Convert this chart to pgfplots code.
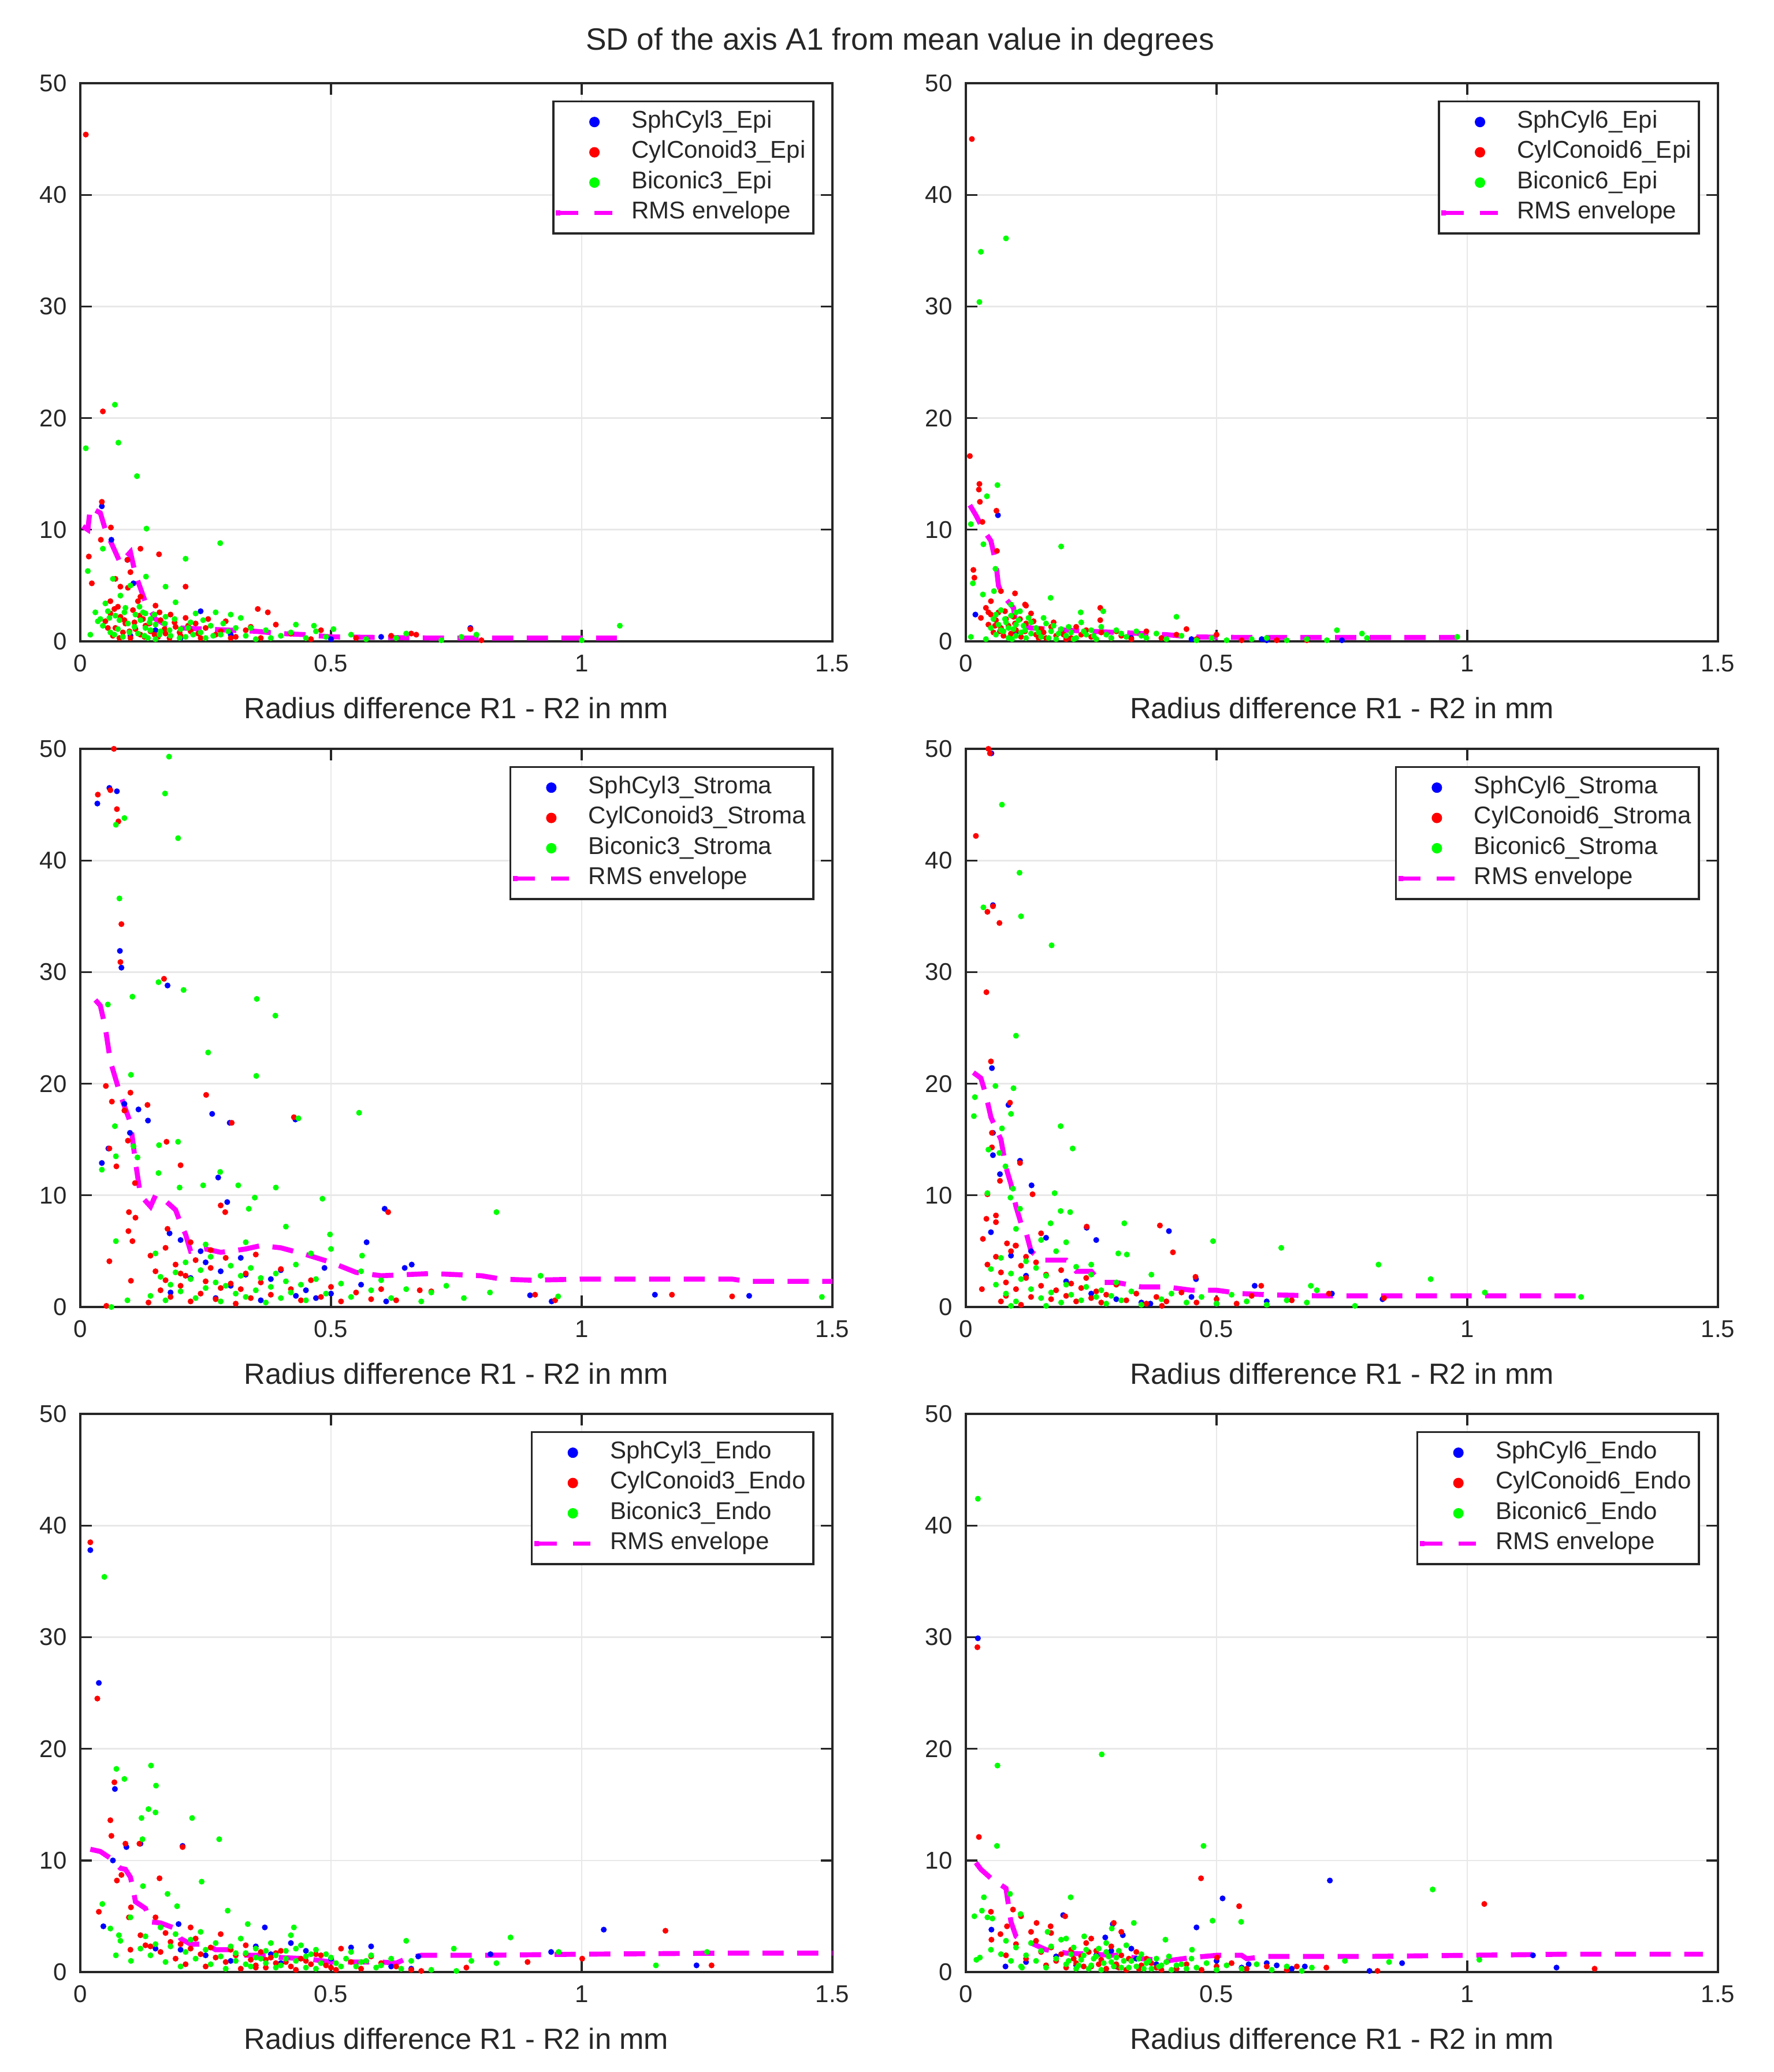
\documentclass[border=0pt]{standalone}
\usepackage{fontspec}
\setmainfont{Liberation Sans}
\usepackage{pgfplots}
\pgfplotsset{compat=1.18}
\definecolor{axgray}{gray}{0.15}
\definecolor{mag}{rgb}{1,0,1}
\definecolor{gr}{rgb}{0,1,0}
\definecolor{bl}{rgb}{0,0,1}
\definecolor{rd}{rgb}{1,0,0}
\pgfplotsset{
 panel/.style={
  scale only axis, width=195.3pt, height=144.9pt,
  xmin=0,xmax=1.5,ymin=0,ymax=50,
  xtick={0,0.5,1,1.5}, ytick={0,10,20,30,40,50},
  grid=major, major grid style={gray!18, line width=0.4pt},
  axis line style={axgray, line width=0.5pt},
  tick style={axgray, line width=0.5pt},
  major tick length=3pt, tick align=inside,
  tick label style={font=\fontsize{6.3}{7}\selectfont, text=axgray},
  /pgf/number format/assume math mode=true,
  xlabel={Radius difference R1 - R2 in mm},
  xlabel style={font=\fontsize{7.6}{9}\selectfont, text=axgray, at={(axis description cs:0.5,0)}, anchor=center, yshift=-17.3pt},
  legend style={at={(0.976,0.969)}, anchor=north east, draw=axgray, line width=0.5pt, font=\fontsize{6.3}{7.5}\selectfont, text=black!85, row sep=-2.2pt, column sep=2.5pt, inner xsep=0pt, inner ysep=0.3pt},
  legend cell align=left,
 },
 dots/.style={only marks, mark=*, mark size=0.55pt, color=#1, mark options={draw=none, fill=#1},
   legend image code/.code={\draw[##1, mark size=1.1pt] plot coordinates {(10pt,0pt)};}},
 env/.style={mag, line width=1.3pt, dash pattern=on 5.5pt off 3.5pt, no marks,
   legend image code/.code={\path (0pt,0pt) -- (1.2pt,0pt); \draw[##1, line width=1.15pt, dash pattern=on 4.6pt off 4.2pt] (1.2pt,0pt) -- (14.6pt,0pt);}},
}
\begin{document}
\begin{tikzpicture}
\path[use as bounding box] (0,0) rectangle (460.5pt,-537.9pt);
\node[font=\fontsize{8}{10}\selectfont, text=axgray] at (233.7pt,-10.95pt) {SD of the axis A1 from mean value in degrees};

% ---------- Panel 1: Epi 3 ----------
\begin{axis}[panel, at={(20.85pt,-21.6pt)}, anchor=north west]
\addplot[dots=bl] coordinates {(0.043,12.1)(0.062,9.1)(0.094,7.3)(0.106,5.2)(0.24,2.7)(0.778,1.2)(0.1,0.5)(0.15,1.0)(0.2,0.3)(0.3,0.6)(0.5,0.2)(0.6,0.4)};
\addlegendentry{SphCyl3\_Epi}
\addplot[dots=rd] coordinates {(0.011,45.4)(0.045,20.6)(0.017,7.6)(0.023,5.2)(0.043,12.5)(0.041,9.1)(0.061,10.2)(0.094,7.3)(0.12,8.3)(0.157,7.8)(0.21,4.9)(0.354,2.9)(0.374,2.6)(0.778,1.1)(0.67,0.6)
(0.05,1.8)(0.06,2.5)(0.065,0.5)(0.07,1.2)(0.075,3.1)(0.08,2.2)(0.085,0.8)(0.09,1.6)(0.095,4.8)(0.1,0.3)(0.105,2.8)(0.11,1.1)(0.115,3.6)(0.12,0.6)(0.125,2.0)(0.13,1.4)(0.14,0.9)(0.15,3.2)(0.155,0.4)(0.16,1.9)(0.17,0.7)(0.18,2.4)(0.19,1.3)(0.2,0.5)(0.21,2.1)(0.22,0.9)(0.23,1.6)(0.24,0.3)(0.25,1.2)(0.27,0.6)(0.29,1.8)(0.31,0.4)(0.33,1.0)(0.36,0.3)(0.39,1.5)(0.42,0.7)(0.46,0.2)(0.48,1.0)(0.55,0.3)(0.62,0.5)(0.66,0.7)(0.8,0.1)(0.07,5.6)(0.08,4.9)(0.1,6.2)(0.12,4.0)(0.06,3.6)
(0.055,1.2)(0.068,2.9)(0.078,0.3)(0.088,1.9)(0.098,0.9)(0.108,1.7)(0.118,2.3)(0.128,0.4)(0.138,1.6)(0.148,0.6)(0.158,2.6)(0.168,1.1)(0.178,0.3)(0.188,1.7)(0.198,0.8)(0.215,1.4)(0.235,0.7)(0.255,2.0)(0.28,0.9)(0.3,0.3)(0.34,1.3)};
\addlegendentry{CylConoid3\_Epi}
\addplot[dots=gr] coordinates {(0.069,21.2)(0.011,17.3)(0.076,17.8)(0.113,14.8)(0.132,10.1)(0.279,8.8)(0.21,7.4)(0.015,6.3)(0.045,8.3)(0.131,5.8)(0.17,4.9)(1.076,1.4)(0.02,0.6)(0.505,1.1)(0.466,1.4)
(0.03,2.6)(0.035,1.8)(0.04,2.0)(0.05,3.4)(0.055,2.7)(0.06,0.8)(0.065,5.6)(0.07,2.3)(0.075,1.1)(0.08,4.1)(0.085,0.4)(0.09,3.0)(0.095,1.6)(0.1,5.0)(0.11,2.4)(0.115,0.7)(0.12,1.9)(0.125,2.6)(0.13,1.2)(0.135,0.3)(0.14,2.0)(0.15,1.5)(0.16,0.9)(0.17,2.2)(0.18,0.5)(0.19,3.5)(0.2,1.1)(0.21,0.4)(0.22,1.7)(0.23,2.5)(0.24,0.8)(0.25,0.3)(0.26,1.4)(0.27,2.6)(0.28,0.6)(0.3,2.4)(0.31,1.2)(0.32,2.1)(0.33,0.5)(0.35,0.2)(0.37,1.0)(0.4,0.5)(0.43,1.5)(0.45,0.3)(0.47,0.9)(0.49,0.4)(0.54,0.6)(0.57,0.2)(0.63,0.3)(0.65,0.7)(0.72,0.1)(0.76,0.4)(0.79,0.6)(1.0,0.1)(0.13,2.5)(0.14,1.0)(0.15,0.2)
(0.045,1.4)(0.058,2.1)(0.068,0.6)(0.078,1.9)(0.088,2.6)(0.098,0.8)(0.108,1.3)(0.118,3.1)(0.128,0.5)(0.138,1.7)(0.148,2.4)(0.158,0.6)(0.168,1.6)(0.178,1.0)(0.188,2.0)(0.198,0.3)(0.215,1.2)(0.225,0.6)(0.245,1.9)(0.265,0.5)(0.285,1.6)(0.295,0.9)(0.34,1.2)(0.38,0.3)(0.42,0.8)};
\addlegendentry{Biconic3\_Epi}
\addplot[env] coordinates {(0.005,10.3)(0.015,10.0)(0.02,12.0)(0.04,11.5)(0.05,10.0)(0.07,8.0)(0.08,7.0)(0.1,8.0)(0.11,6.0)(0.13,3.5)(0.15,2.0)(0.17,1.5)(0.2,1.2)(0.25,1.1)(0.3,1.0)(0.35,0.9)(0.4,0.7)(0.45,0.6)(0.5,0.4)(0.6,0.35)(0.7,0.3)(0.8,0.3)(1.07,0.3)};
\addlegendentry{RMS envelope}
\end{axis}

% ---------- Panel 2: Epi 6 ----------
\begin{axis}[panel, at={(250.8pt,-21.6pt)}, anchor=north west]
\addplot[dots=bl] coordinates {(0.019,2.4)(0.064,11.3)(0.59,0.2)(0.1,0.8)(0.2,0.4)(0.33,0.3)(0.45,0.2)(0.6,0.1)(0.75,0.1)};
\addlegendentry{SphCyl6\_Epi}
\addplot[dots=rd] coordinates {(0.012,45.0)(0.008,16.6)(0.027,14.1)(0.026,13.6)(0.028,12.5)(0.033,10.7)(0.061,11.7)(0.062,8.1)(0.015,6.4)(0.017,5.7)(0.098,4.3)(0.118,3.3)(0.268,3.0)(0.268,1.9)(0.44,1.1)(0.5,0.6)
(0.03,2.1)(0.04,3.0)(0.045,1.5)(0.05,2.4)(0.055,0.8)(0.06,1.9)(0.065,2.6)(0.07,1.2)(0.075,0.5)(0.08,2.0)(0.085,1.4)(0.09,0.7)(0.095,2.2)(0.1,1.0)(0.11,0.4)(0.12,1.6)(0.13,2.5)(0.14,0.6)(0.15,1.1)(0.16,0.3)(0.17,1.3)(0.18,0.5)(0.19,0.9)(0.2,0.2)(0.22,1.3)(0.23,0.6)(0.25,0.4)(0.27,0.8)(0.29,0.3)(0.31,0.5)(0.33,0.2)(0.36,0.9)(0.39,0.3)(0.42,0.6)(0.46,0.2)(0.55,0.1)(0.62,0.1)(0.68,0.1)(0.07,4.5)(0.12,3.2)(0.05,3.6)
(0.045,2.6)(0.058,1.4)(0.068,0.9)(0.078,2.7)(0.088,0.4)(0.098,1.6)(0.108,2.0)(0.118,0.9)(0.135,1.8)(0.145,0.3)(0.155,0.8)(0.175,1.7)(0.195,0.6)(0.21,0.3)(0.24,1.0)(0.26,0.2)(0.3,0.9)};
\addlegendentry{CylConoid6\_Epi}
\addplot[dots=gr] coordinates {(0.03,34.9)(0.08,36.1)(0.027,30.4)(0.063,14.0)(0.042,13.0)(0.01,10.5)(0.035,8.7)(0.19,8.5)(0.059,6.5)(0.014,5.2)(0.034,4.2)(0.056,4.5)(0.169,3.9)(0.229,2.6)(0.274,2.7)(0.42,2.2)(0.74,1.0)(0.79,0.7)(0.98,0.4)(0.01,0.4)
(0.04,0.2)(0.05,1.2)(0.055,2.0)(0.06,0.6)(0.065,1.5)(0.07,2.8)(0.075,0.9)(0.08,1.7)(0.085,0.3)(0.09,2.3)(0.095,1.1)(0.1,0.5)(0.105,1.9)(0.11,0.8)(0.115,1.4)(0.12,0.3)(0.125,2.1)(0.13,0.7)(0.14,1.2)(0.15,0.4)(0.16,1.6)(0.17,0.9)(0.18,0.2)(0.19,1.1)(0.2,0.5)(0.21,0.8)(0.22,0.3)(0.23,1.7)(0.24,0.6)(0.25,1.0)(0.26,0.2)(0.28,0.6)(0.3,1.0)(0.32,0.4)(0.34,0.9)(0.36,0.3)(0.38,0.7)(0.4,0.2)(0.43,0.5)(0.46,0.1)(0.49,0.3)(0.52,0.1)(0.57,0.2)(0.6,0.3)(0.64,0.1)(0.68,0.2)(0.72,0.1)(0.8,0.3)(0.09,3.3)(0.1,2.6)
(0.06,2.4)(0.07,1.0)(0.078,2.0)(0.085,1.2)(0.092,0.2)(0.1,1.5)(0.108,2.7)(0.118,1.0)(0.13,1.7)(0.145,0.8)(0.155,2.1)(0.165,0.3)(0.175,1.4)(0.185,0.7)(0.205,1.3)(0.215,0.2)(0.235,0.9)(0.255,0.5)(0.27,1.3)(0.29,0.3)(0.31,0.7)(0.35,0.5)};
\addlegendentry{Biconic6\_Epi}
\addplot[env] coordinates {(0.008,12.2)(0.02,11.3)(0.035,10.0)(0.05,9.0)(0.06,7.0)(0.065,5.0)(0.07,4.5)(0.08,3.8)(0.095,3.0)(0.1,1.5)(0.13,1.2)(0.2,1.0)(0.3,0.8)(0.4,0.6)(0.45,0.4)(0.55,0.35)(0.7,0.35)(0.98,0.35)};
\addlegendentry{RMS envelope}
\end{axis}

% ---------- Panel 3: Stroma 3 ----------
\begin{axis}[panel, at={(20.85pt,-194.4pt)}, anchor=north west]
\addplot[dots=bl] coordinates {(0.034,45.1)(0.058,46.5)(0.073,46.2)(0.079,31.9)(0.082,30.4)(0.174,28.8)(0.263,17.3)(0.298,16.5)(0.429,16.8)(0.043,12.9)(0.056,14.2)(0.088,18.2)(0.116,17.7)(0.135,16.7)(0.099,15.6)(0.275,11.6)(0.293,9.4)(0.607,8.8)(0.571,5.8)(0.647,3.5)(0.661,3.8)(1.146,1.1)(1.334,1.0)(0.897,1.05)(0.94,0.5)(0.487,3.5)(0.2,6.0)(0.178,6.6)
(0.18,1.3)(0.22,2.6)(0.25,4.0)(0.28,3.2)(0.3,1.9)(0.33,2.9)(0.36,0.6)(0.4,3.3)(0.43,1.0)(0.47,0.8)(0.5,1.2)(0.56,2.0)(0.61,0.5)(0.24,5.0)(0.27,0.8)(0.32,4.4)(0.38,2.5)(0.45,1.5)};
\addlegendentry{SphCyl3\_Stroma}
\addplot[dots=rd] coordinates {(0.035,45.9)(0.06,46.3)(0.067,50.0)(0.073,44.6)(0.076,43.5)(0.082,34.3)(0.08,30.9)(0.167,29.4)(0.051,19.8)(0.063,18.4)(0.088,17.6)(0.1,19.2)(0.251,19.0)(0.302,16.5)(0.426,17.0)(0.134,18.1)(0.058,14.2)(0.095,14.9)(0.172,14.8)(0.2,12.7)(0.072,12.6)(0.109,11.1)(0.28,9.1)(0.289,8.5)(0.614,8.5)(0.11,8.0)(0.097,8.5)(0.096,6.8)(0.174,7.0)(0.104,5.9)(0.058,4.1)(0.101,2.35)(0.136,0.4)(0.677,1.5)(1.18,1.1)(1.3,0.95)(0.907,1.1)(0.947,0.6)(0.052,0.1)
(0.14,4.6)(0.15,3.2)(0.16,1.5)(0.17,2.4)(0.18,0.9)(0.19,3.8)(0.2,1.9)(0.21,2.8)(0.22,0.5)(0.23,4.2)(0.24,1.2)(0.25,2.3)(0.26,3.5)(0.27,0.7)(0.28,1.7)(0.29,4.4)(0.3,2.1)(0.31,0.3)(0.32,1.6)(0.33,3.0)(0.34,0.8)(0.36,2.2)(0.38,1.1)(0.4,3.4)(0.42,1.6)(0.44,0.6)(0.46,2.4)(0.48,0.9)(0.5,1.8)(0.52,0.5)(0.55,1.3)(0.58,0.7)(0.6,1.6)(0.63,0.6)(0.7,1.4)(0.22,5.8)(0.26,5.1)(0.35,4.7)(0.2,3.0)(0.17,5.3)};
\addlegendentry{CylConoid3\_Stroma}
\addplot[dots=gr] coordinates {(0.177,49.3)(0.169,46.0)(0.195,42.0)(0.088,43.8)(0.071,43.2)(0.078,36.6)(0.055,27.1)(0.104,27.8)(0.206,28.4)(0.156,29.1)(0.352,27.6)(0.389,26.1)(0.255,22.8)(0.351,20.7)(0.101,20.8)(0.556,17.4)(0.435,16.9)(0.069,16.2)(0.195,14.8)(0.157,14.5)(0.106,14.4)(0.114,13.4)(0.071,13.5)(0.043,12.3)(0.156,12.0)(0.279,12.1)(0.198,10.7)(0.245,10.9)(0.315,10.9)(0.39,10.7)(0.348,9.8)(0.483,9.7)(0.83,8.5)(0.336,8.8)(0.41,7.2)(0.498,6.5)(0.071,5.9)(0.562,4.6)(0.094,0.6)(0.062,0.0)(0.918,2.8)(1.479,0.9)(0.765,0.8)(0.953,0.95)(0.817,1.3)
(0.14,1.0)(0.15,4.8)(0.16,2.7)(0.17,0.6)(0.18,2.0)(0.19,3.1)(0.2,1.4)(0.21,4.0)(0.22,2.5)(0.23,0.8)(0.24,3.3)(0.25,1.7)(0.26,4.5)(0.27,2.2)(0.28,0.5)(0.29,1.9)(0.3,3.7)(0.31,1.2)(0.32,2.8)(0.33,0.9)(0.34,3.5)(0.35,1.5)(0.36,2.6)(0.37,0.4)(0.38,1.8)(0.39,3.0)(0.4,0.8)(0.41,2.3)(0.42,1.3)(0.43,3.8)(0.44,2.0)(0.45,0.6)(0.47,2.5)(0.49,1.2)(0.5,5.2)(0.52,2.1)(0.54,0.9)(0.56,3.2)(0.58,1.5)(0.6,2.4)(0.62,0.8)(0.65,1.6)(0.68,0.5)(0.7,1.3)(0.73,1.9)(0.25,5.6)(0.33,5.8)(0.46,4.8)};
\addlegendentry{Biconic3\_Stroma}
\addplot[env] coordinates {(0.03,27.5)(0.04,27.0)(0.05,25.0)(0.06,22.0)(0.08,19.0)(0.1,16.5)(0.11,13.0)(0.12,10.0)(0.14,9.0)(0.15,10.0)(0.17,9.5)(0.19,8.7)(0.2,7.5)(0.21,6.5)(0.22,5.0)(0.25,5.2)(0.28,4.9)(0.3,5.0)(0.33,5.2)(0.36,5.5)(0.4,5.3)(0.45,4.7)(0.5,4.0)(0.55,3.1)(0.6,2.8)(0.7,3.0)(0.8,2.8)(0.84,2.5)(0.9,2.4)(1.0,2.5)(1.3,2.5)(1.33,2.3)(1.5,2.3)};
\addlegendentry{RMS envelope}
\end{axis}

% ---------- Panel 4: Stroma 6 ----------
\begin{axis}[panel, at={(250.8pt,-194.4pt)}, anchor=north west]
\addplot[dots=bl] coordinates {(0.051,49.6)(0.054,36.0)(0.052,21.4)(0.085,18.1)(0.054,15.6)(0.054,13.6)(0.068,11.9)(0.131,10.9)(0.108,13.1)(0.241,7.1)(0.405,6.8)(0.05,6.7)(0.459,2.5)(0.576,1.9)(0.73,1.2)(0.831,0.7)(0.368,0.3)
(0.09,4.6)(0.13,5.0)(0.16,6.2)(0.2,2.3)(0.25,1.2)(0.3,0.7)(0.35,0.4)(0.45,0.9)(0.5,0.3)(0.6,0.5)(0.26,6.0)(0.12,2.8)};
\addlegendentry{SphCyl6\_Stroma}
\addplot[dots=rd] coordinates {(0.045,50.0)(0.048,49.6)(0.02,42.2)(0.043,35.4)(0.054,35.9)(0.067,34.4)(0.041,28.2)(0.05,22.0)(0.088,18.3)(0.052,15.6)(0.052,14.3)(0.108,12.9)(0.068,11.3)(0.043,10.1)(0.133,10.1)(0.06,8.2)(0.06,7.6)(0.041,7.9)(0.241,7.2)(0.387,7.3)(0.413,4.9)(0.034,6.1)(0.082,5.7)(0.099,5.5)(0.043,3.8)(0.458,2.7)(0.032,1.6)(0.391,0.1)(0.589,1.9)(0.65,0.6)(0.724,1.2)(0.834,0.8)
(0.06,4.5)(0.07,3.1)(0.08,2.2)(0.09,5.0)(0.1,1.6)(0.11,3.7)(0.12,2.6)(0.13,0.9)(0.14,4.0)(0.15,1.9)(0.16,2.9)(0.17,0.7)(0.18,1.5)(0.19,3.3)(0.2,1.0)(0.21,2.1)(0.22,0.5)(0.23,1.7)(0.24,2.6)(0.25,0.8)(0.26,1.4)(0.27,0.4)(0.28,1.1)(0.3,2.0)(0.32,0.6)(0.34,1.2)(0.36,0.3)(0.38,0.9)(0.4,0.5)(0.43,1.3)(0.46,0.4)(0.5,0.7)(0.54,0.3)(0.57,1.0)(0.1,5.5)(0.12,4.5)(0.08,1.0)(0.07,0.5)(0.11,0.2)(0.15,6.6)};
\addlegendentry{CylConoid6\_Stroma}
\addplot[dots=gr] coordinates {(0.072,45.0)(0.107,38.9)(0.11,35.0)(0.035,35.8)(0.171,32.4)(0.1,24.3)(0.018,18.8)(0.016,17.1)(0.059,19.8)(0.095,19.6)(0.09,17.3)(0.072,16.0)(0.189,16.2)(0.213,14.2)(0.045,14.1)(0.067,13.8)(0.079,12.6)(0.094,10.6)(0.089,9.8)(0.043,10.2)(0.177,10.2)(0.108,8.8)(0.189,8.6)(0.208,8.5)(0.316,7.5)(0.493,5.9)(0.629,5.3)(0.823,3.8)(0.927,2.5)(1.035,1.3)(1.227,0.9)(0.688,1.9)(0.776,0.1)(0.304,4.8)(0.321,4.7)(0.169,7.5)
(0.05,3.4)(0.06,2.0)(0.07,4.4)(0.08,1.2)(0.09,3.0)(0.1,0.5)(0.11,2.5)(0.12,4.1)(0.13,1.6)(0.14,3.5)(0.15,0.8)(0.16,2.8)(0.17,1.3)(0.18,5.0)(0.19,0.4)(0.2,2.0)(0.21,1.1)(0.22,3.6)(0.23,0.6)(0.24,1.8)(0.25,2.9)(0.26,0.9)(0.27,1.5)(0.28,0.3)(0.29,1.0)(0.3,2.2)(0.31,0.6)(0.33,1.4)(0.35,0.2)(0.37,2.9)(0.39,0.7)(0.41,1.2)(0.44,0.4)(0.47,0.9)(0.5,0.3)(0.53,1.1)(0.56,0.5)(0.6,0.2)(0.64,0.6)(0.68,0.4)(0.7,1.5)(0.1,7.0)(0.15,6.0)(0.2,5.8)(0.25,3.8)(0.16,0.1)(0.09,0.1)};
\addlegendentry{Biconic6\_Stroma}
\addplot[env] coordinates {(0.015,21.0)(0.03,20.5)(0.04,19.0)(0.05,17.0)(0.06,16.0)(0.07,15.0)(0.08,12.5)(0.09,11.0)(0.1,9.0)(0.11,7.5)(0.12,6.7)(0.13,5.0)(0.15,4.2)(0.2,4.2)(0.22,3.2)(0.25,3.2)(0.27,2.2)(0.3,2.2)(0.35,1.8)(0.4,1.8)(0.45,1.5)(0.5,1.5)(0.55,1.2)(0.6,1.1)(0.7,1.0)(0.8,1.0)(1.0,1.0)(1.23,1.0)};
\addlegendentry{RMS envelope}
\end{axis}

% ---------- Panel 5: Endo 3 ----------
\begin{axis}[panel, at={(20.85pt,-367.05pt)}, anchor=north west]
\addplot[dots=bl] coordinates {(0.02,37.8)(0.037,25.9)(0.069,16.4)(0.065,10.0)(0.092,11.2)(0.12,11.5)(0.204,11.3)(0.046,4.1)(0.196,4.3)(0.368,4.0)(1.044,3.8)(0.939,1.8)(1.229,0.6)(0.674,1.4)(0.818,1.6)
(0.2,2.0)(0.25,1.5)(0.3,1.0)(0.35,2.3)(0.4,0.8)(0.45,1.9)(0.5,1.2)(0.54,2.2)(0.58,2.3)(0.62,0.5)(0.66,0.3)(0.15,2.1)(0.42,2.6)(0.38,1.6)};
\addlegendentry{SphCyl3\_Endo}
\addplot[dots=rd] coordinates {(0.02,38.5)(0.034,24.5)(0.06,13.6)(0.062,12.2)(0.068,17.0)(0.09,11.5)(0.118,11.5)(0.204,11.2)(0.073,8.2)(0.082,8.7)(0.158,8.4)(0.037,5.4)(0.101,5.8)(0.097,4.9)(1.167,3.7)(1.001,1.2)(1.259,0.6)(0.892,0.9)(0.77,0.4)
(0.1,2.0)(0.12,3.3)(0.13,2.4)(0.15,4.9)(0.16,1.8)(0.17,3.5)(0.18,2.7)(0.19,1.2)(0.2,2.5)(0.21,0.7)(0.22,2.1)(0.23,3.0)(0.24,1.6)(0.25,0.5)(0.26,2.2)(0.27,1.3)(0.28,3.4)(0.29,0.9)(0.3,2.0)(0.31,1.5)(0.32,0.3)(0.33,2.4)(0.34,1.1)(0.35,0.6)(0.36,1.8)(0.37,0.4)(0.38,1.3)(0.39,0.8)(0.4,1.9)(0.42,0.5)(0.44,1.2)(0.46,0.7)(0.48,1.5)(0.5,0.4)(0.52,2.1)(0.54,0.9)(0.56,0.3)(0.58,1.4)(0.6,0.8)(0.63,0.5)(0.66,0.2)(0.68,0.1)(0.22,4.0)(0.14,2.3)
(0.33,1.6)(0.35,0.4)(0.37,1.1)(0.39,1.7)(0.41,0.9)(0.43,0.2)(0.45,1.0)(0.47,1.6)(0.49,0.6)(0.51,0.2)};
\addlegendentry{CylConoid3\_Endo}
\addplot[dots=gr] coordinates {(0.048,35.4)(0.072,18.2)(0.088,17.3)(0.141,18.5)(0.151,16.7)(0.136,14.6)(0.15,14.3)(0.223,13.8)(0.122,13.8)(0.277,11.9)(0.124,11.9)(0.242,8.1)(0.125,7.7)(0.174,7.0)(0.193,5.9)(0.294,5.5)(0.044,6.1)(0.334,4.3)(0.426,4.0)(0.65,2.8)(0.858,3.1)(0.745,2.1)(0.954,1.8)(1.148,0.6)(1.25,1.8)(0.83,0.8)(0.077,3.3)(0.071,1.5)(0.101,1.0)
(0.06,3.9)(0.08,2.8)(0.1,4.9)(0.12,2.1)(0.13,3.2)(0.14,1.5)(0.15,2.5)(0.16,4.0)(0.17,0.9)(0.18,2.3)(0.19,3.4)(0.2,0.5)(0.21,1.8)(0.22,2.9)(0.23,1.2)(0.24,3.6)(0.25,2.0)(0.26,0.7)(0.27,2.6)(0.28,1.4)(0.29,0.3)(0.3,2.3)(0.31,1.0)(0.32,3.0)(0.33,1.7)(0.34,0.5)(0.35,2.1)(0.36,1.2)(0.37,0.8)(0.38,2.6)(0.39,1.5)(0.4,0.6)(0.41,1.9)(0.42,3.3)(0.43,1.0)(0.44,2.4)(0.45,0.4)(0.46,1.6)(0.47,2.0)(0.48,0.8)(0.5,1.3)(0.52,0.5)(0.54,1.8)(0.56,0.9)(0.58,1.5)(0.6,0.6)(0.62,1.2)(0.64,0.3)(0.66,1.0)(0.7,0.2)(0.75,0.1)(0.78,1.0)
(0.31,1.7)(0.33,0.7)(0.35,1.3)(0.37,1.9)(0.39,0.4)(0.41,1.2)(0.43,2.1)(0.45,1.4)(0.47,0.3)(0.49,1.6)(0.51,0.8)(0.53,1.2)(0.55,0.5)(0.57,1.0)(0.59,0.4)};
\addlegendentry{Biconic3\_Endo}
\addplot[env] coordinates {(0.02,11.0)(0.04,10.8)(0.05,10.5)(0.06,10.2)(0.07,9.7)(0.08,9.3)(0.09,9.2)(0.1,8.5)(0.105,7.5)(0.11,6.3)(0.13,5.7)(0.14,4.5)(0.16,4.4)(0.19,3.9)(0.2,3.0)(0.22,2.5)(0.25,2.5)(0.27,2.0)(0.3,2.0)(0.32,1.5)(0.35,1.5)(0.38,1.5)(0.4,1.3)(0.45,1.2)(0.5,0.9)(0.55,0.9)(0.6,0.9)(0.63,0.8)(0.65,1.2)(0.68,1.5)(0.8,1.5)(1.0,1.6)(1.3,1.7)(1.5,1.7)};
\addlegendentry{RMS envelope}
\end{axis}

% ---------- Panel 6: Endo 6 ----------
\begin{axis}[panel, at={(250.8pt,-367.05pt)}, anchor=north west]
\addplot[dots=bl] coordinates {(0.024,29.9)(0.726,8.2)(0.512,6.6)(0.46,4.0)(0.194,5.1)(0.293,4.3)(0.278,3.1)(0.313,3.3)(0.051,3.8)(0.079,0.5)(0.805,0.1)(0.87,0.8)(1.131,1.5)(1.178,0.4)(0.676,0.5)(0.564,0.7)(0.62,0.6)
(0.12,0.9)(0.18,1.4)(0.22,0.6)(0.26,1.5)(0.3,0.5)(0.34,1.2)(0.38,0.7)(0.42,0.3)(0.5,1.0)(0.55,0.4)(0.6,0.8)(0.65,0.3)(0.33,2.1)(0.29,1.9)};
\addlegendentry{SphCyl6\_Endo}
\addplot[dots=rd] coordinates {(0.023,29.1)(0.026,12.1)(0.469,8.4)(0.545,5.9)(1.034,6.1)(0.05,5.4)(0.094,5.6)(0.11,5.0)(0.198,5.0)(0.141,4.4)(0.169,4.1)(0.295,4.4)(0.31,3.6)(0.13,3.6)(0.069,3.4)(0.082,4.1)(0.051,2.9)(0.719,0.4)(0.821,0.1)(1.254,0.3)(0.501,1.3)
(0.08,1.5)(0.1,2.5)(0.12,1.2)(0.14,2.8)(0.15,1.8)(0.16,0.6)(0.17,2.2)(0.18,1.0)(0.19,1.6)(0.2,0.4)(0.21,2.0)(0.22,0.8)(0.23,1.4)(0.24,2.6)(0.25,0.5)(0.26,1.9)(0.27,1.1)(0.28,0.3)(0.29,2.3)(0.3,0.7)(0.31,1.5)(0.32,0.2)(0.33,1.0)(0.34,1.8)(0.35,0.6)(0.36,1.2)(0.38,0.4)(0.4,0.9)(0.42,0.3)(0.44,0.7)(0.47,0.2)(0.5,0.5)(0.53,0.8)(0.56,0.3)(0.6,0.5)(0.64,0.2)(0.66,0.5)(0.17,3.5)(0.25,3.0)
(0.215,1.2)(0.235,0.5)(0.245,1.8)(0.265,0.7)(0.285,1.4)(0.305,0.4)(0.325,1.2)(0.345,0.3)(0.37,0.8)(0.39,0.2)};
\addlegendentry{CylConoid6\_Endo}
\addplot[dots=gr] coordinates {(0.024,42.4)(0.063,18.5)(0.271,19.5)(0.062,11.3)(0.474,11.3)(0.088,7.0)(0.931,7.4)(0.036,6.7)(0.209,6.7)(0.492,4.6)(0.549,4.5)(0.335,4.4)(0.291,3.9)(0.017,5.0)(0.032,5.5)(0.043,4.9)(0.053,4.8)(0.109,5.2)(0.163,3.6)(0.236,3.2)(0.398,2.9)(0.021,1.1)(0.028,1.3)(0.756,1.0)(0.844,0.9)(1.024,1.1)(0.112,0.4)(0.451,2.0)
(0.05,2.0)(0.07,1.6)(0.08,2.8)(0.09,1.0)(0.1,2.2)(0.11,0.5)(0.12,1.5)(0.13,2.6)(0.14,1.0)(0.15,1.9)(0.16,0.4)(0.17,2.3)(0.18,1.2)(0.19,2.9)(0.2,0.7)(0.21,1.6)(0.22,0.3)(0.23,1.1)(0.24,2.0)(0.25,0.6)(0.26,1.4)(0.27,0.2)(0.28,1.8)(0.29,0.9)(0.3,1.3)(0.31,0.4)(0.32,2.4)(0.33,1.0)(0.34,0.5)(0.35,1.6)(0.36,0.8)(0.37,0.3)(0.38,1.2)(0.39,0.6)(0.4,0.9)(0.41,0.2)(0.43,0.7)(0.45,1.2)(0.46,0.4)(0.48,0.8)(0.5,0.2)(0.52,0.6)(0.55,0.3)(0.58,0.7)(0.61,0.2)(0.64,0.5)(0.67,0.1)(0.69,0.4)(0.2,3.0)(0.28,2.6)
(0.205,1.0)(0.215,2.2)(0.225,0.6)(0.235,1.5)(0.245,0.3)(0.255,1.2)(0.265,2.1)(0.275,0.8)(0.285,1.4)(0.295,0.5)(0.305,1.9)(0.315,1.0)(0.325,0.4)(0.345,1.2)(0.355,0.3)(0.365,1.0)(0.385,0.5)(0.405,1.4)(0.42,0.6)(0.44,0.3)};
\addlegendentry{Biconic6\_Endo}
\addplot[env] coordinates {(0.02,9.8)(0.03,9.2)(0.04,8.8)(0.06,8.0)(0.07,7.8)(0.08,7.5)(0.085,6.0)(0.09,4.5)(0.1,3.2)(0.11,2.9)(0.13,2.6)(0.16,2.0)(0.2,1.7)(0.25,1.6)(0.3,1.5)(0.35,1.2)(0.4,1.0)(0.45,1.3)(0.5,1.5)(0.55,1.5)(0.56,1.2)(0.6,1.4)(0.7,1.4)(0.8,1.4)(1.0,1.5)(1.2,1.6)(1.47,1.6)};
\addlegendentry{RMS envelope}
\end{axis}
\end{tikzpicture}
\end{document}
